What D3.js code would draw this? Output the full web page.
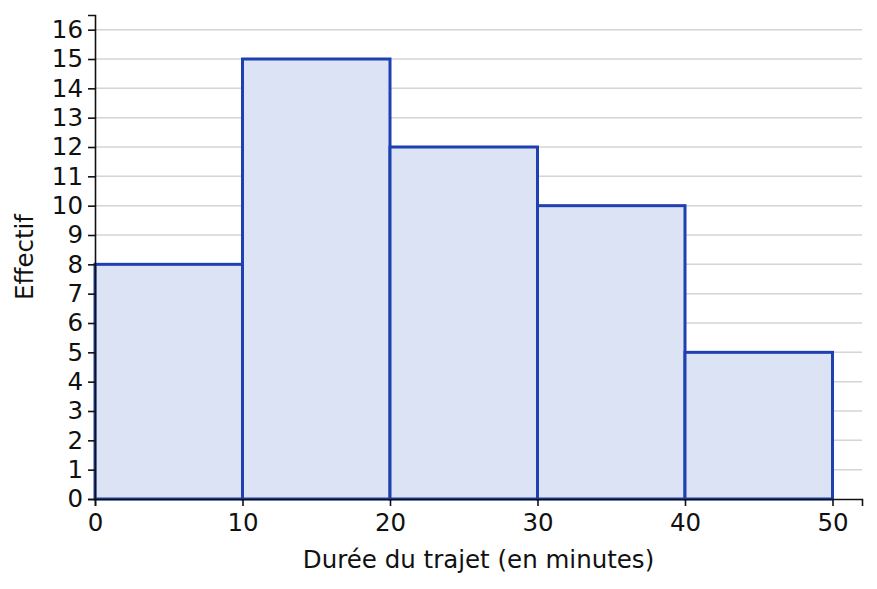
<!DOCTYPE html>
<html>
<head>
<meta charset="utf-8">
<script src="https://cdn.jsdelivr.net/npm/d3@7"></script>
<style>
  body { margin: 0; background: #fff; }
  text { font-family: "DejaVu Sans", sans-serif; fill: #111; }
</style>
</head>
<body>
<div id="chart"></div>
<script>
// classes de durée (minutes) et effectifs
const binStarts = [0, 10, 20, 30, 40]
const binEnds = [10, 20, 30, 40, 50]
const counts = [8, 15, 12, 10, 5]
const xTicks = [0, 10, 20, 30, 40, 50]
const yTicks = d3.range(0, 17)

const W = 877, H = 589
const margin = { top: 15, right: 15, bottom: 90, left: 95 }
const width = W - margin.left - margin.right
const height = H - margin.top - margin.bottom
const fs = '24.5px'

const x = d3.scaleLinear().domain([0, 52]).range([0, width])
const y = d3.scaleLinear().domain([0, 16.5]).range([height, 0])

const svg = d3.select('#chart').append('svg')
  .attr('width', W)
  .attr('height', H)
  .append('g')
  .attr('transform', 'translate(' + margin.left + ',' + margin.top + ')')

// grille horizontale
svg.append('g')
  .selectAll('line')
  .data(yTicks.filter(d => d > 0))
  .enter().append('line')
  .attr('x1', 0)
  .attr('x2', width)
  .attr('y1', d => y(d))
  .attr('y2', d => y(d))
  .attr('stroke', '#d4d4d4')
  .attr('stroke-width', 1.5)

const bins = counts.map((c, i) => ({ x0: binStarts[i], x1: binEnds[i], n: c }))

svg.selectAll('.bar')
  .data(bins)
  .enter().append('rect')
  .attr('class', 'bar')
  .attr('x', d => x(d.x0))
  .attr('y', d => y(d.n))
  .attr('width', d => x(d.x1) - x(d.x0))
  .attr('height', d => y(0) - y(d.n))
  .attr('fill', '#dbe3f5')
  .attr('stroke', '#1f40b0')
  .attr('stroke-width', 3)

// axes
const xAxis = svg.append('g')
  .attr('transform', 'translate(0,' + height + ')')
  .call(d3.axisBottom(x).tickValues(xTicks).tickSize(7).tickPadding(8))
const yAxis = svg.append('g')
  .call(d3.axisLeft(y).tickValues(yTicks).tickSize(7).tickPadding(5))

;[xAxis, yAxis].forEach(a => {
  a.attr('font-size', null).attr('font-family', null)
  a.selectAll('path').attr('stroke', '#111').attr('stroke-width', 1.6)
  a.selectAll('line').attr('stroke', '#111').attr('stroke-width', 1.6)
  a.selectAll('text').style('font-size', fs).attr('fill', '#111')
})

svg.append('text')
  .attr('x', x(26))
  .attr('y', height + 69)
  .attr('text-anchor', 'middle')
  .style('font-size', fs)
  .text('Durée du trajet (en minutes)')

svg.append('text')
  .attr('transform', 'translate(' + (-62) + ',' + y(8.25) + ') rotate(-90)')
  .attr('text-anchor', 'middle')
  .style('font-size', fs)
  .text('Effectif')
</script>
</body>
</html>
